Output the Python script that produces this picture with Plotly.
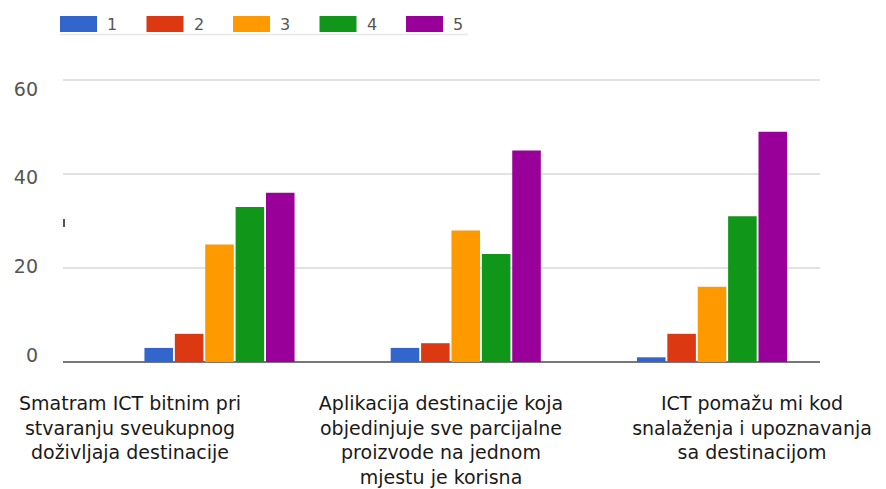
import plotly.graph_objects as go

# Survey answers (ratings 1-5) for three statements
categories = [
    "Smatram ICT bitnim pri<br>stvaranju sveukupnog<br>doživljaja destinacije",
    "Aplikacija destinacije koja<br>objedinjuje sve parcijalne<br>proizvode na jednom<br>mjestu je korisna",
    "ICT pomažu mi kod<br>snalaženja i upoznavanja<br>sa destinacijom",
]
series_names = ["1", "2", "3", "4", "5"]
rating_1 = [3, 3, 1]
rating_2 = [6, 4, 6]
rating_3 = [25, 28, 16]
rating_4 = [33, 23, 31]
rating_5 = [36, 45, 49]
y_ticks = [0, 20, 40, 60]

colors = ["#3366CC", "#DC3912", "#FF9900", "#109618", "#990099"]
series_values = [rating_1, rating_2, rating_3, rating_4, rating_5]

W, H = 886, 489
L, R, T, B = 63, 820, 78, 362   # plot area in pixels
Y_TOP = 60.45                   # a little headroom so the 60 gridline shows
FONT = "DejaVu Sans"

fig = go.Figure()
for name, vals, col in zip(series_names, series_values, colors):
    fig.add_trace(go.Bar(
        x=list(range(len(categories))), y=vals, name=name,
        marker=dict(color=col, line=dict(width=0)),
        showlegend=False,
    ))

# empty trace so the label axes (x2 / y2) get drawn
fig.add_trace(go.Scatter(x=[], y=[], xaxis="x2", yaxis="y2", showlegend=False))


def px_x(p):
    return (p - L) / (R - L)


def px_y(p):
    return (B - p) / (B - T)


shapes = []
annotations = []
# legend: wide swatches with the series name beside them
for i, (name, col) in enumerate(zip(series_names, colors)):
    x0 = 60 + 86.5 * i
    shapes.append(dict(type="rect", xref="paper", yref="paper",
                       x0=px_x(x0), x1=px_x(x0 + 37), y0=px_y(32), y1=px_y(16),
                       fillcolor=col, line=dict(width=0)))
    annotations.append(dict(xref="paper", yref="paper", x=px_x(x0 + 45), y=px_y(24.5),
                            text=name, showarrow=False, xanchor="left", yanchor="middle",
                            font=dict(family=FONT, size=16, color="#555555")))
shapes.append(dict(type="line", xref="paper", yref="paper",
                   x0=px_x(60), x1=px_x(468), y0=px_y(34.5), y1=px_y(34.5),
                   line=dict(color="#e6e6e6", width=1.5)))
# small tick on the left edge
shapes.append(dict(type="line", xref="paper", yref="paper",
                   x0=px_x(64), x1=px_x(64), y0=px_y(219), y1=px_y(227),
                   line=dict(color="#555555", width=2)))

# bar groups centred at pixel 219.5 with 246.25 px between groups
unit = 246.25
c0 = 219.5
x_range = [-(c0 - L) / unit, (R - c0) / unit]

# category labels centred at 130, 441, 752 px
lab_unit = 311.0
lab0 = 130.0
x2_range = [-(lab0 - L) / lab_unit, 2 + (R - (lab0 + 2 * lab_unit)) / lab_unit]

# value labels: 0 at 355 px, 60 at 89 px
vpx = (355 - 89) / 60
y2_range = [-(B - 355) / vpx, 60 + (89 - T) / vpx]

fig.update_layout(
    width=W, height=H,
    margin=dict(l=L, r=W - R, t=T, b=H - B, pad=0, autoexpand=False),
    paper_bgcolor="white", plot_bgcolor="white",
    barmode="group", bargap=0.383, bargroupgap=0.06,
    shapes=shapes, annotations=annotations,
    showlegend=False,
    xaxis=dict(range=x_range, showticklabels=False, showgrid=False,
               zeroline=False, showline=False, fixedrange=True, automargin=False),
    yaxis=dict(range=[0, Y_TOP], tickvals=y_ticks, showticklabels=False,
               showgrid=True, gridcolor="#e2e2e2", gridwidth=2,
               zeroline=True, zerolinecolor="#777777", zerolinewidth=2,
               showline=False, automargin=False),
    xaxis2=dict(overlaying="x", anchor="y", side="bottom", range=x2_range,
                tickvals=[0, 1, 2], ticktext=categories, tickangle=0,
                showgrid=False, zeroline=False, showline=False, ticks="",
                ticklabelstandoff=28, automargin=False,
                tickfont=dict(family=FONT, size=19, color="#1a1a1a")),
    yaxis2=dict(overlaying="y", anchor="x", side="left", range=y2_range,
                tickvals=y_ticks, showgrid=False, zeroline=False,
                showline=False, ticks="", ticklabelstandoff=24, automargin=False,
                tickfont=dict(family=FONT, size=19, color="#555555")),
)

fig.write_html("out.html")
